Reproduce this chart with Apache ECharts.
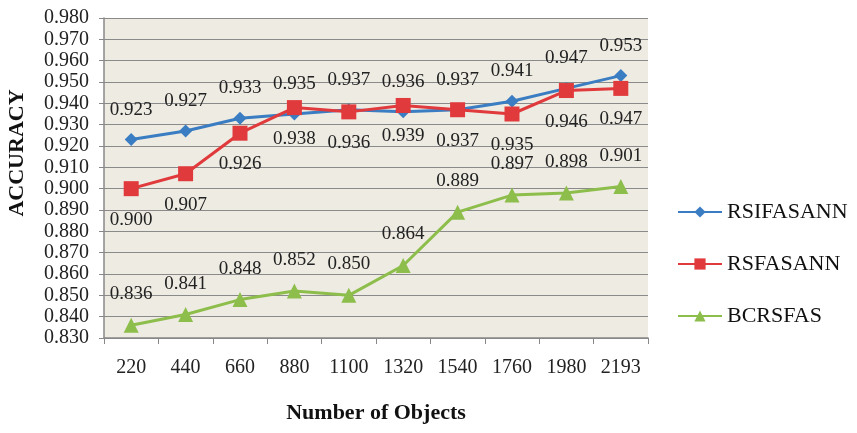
<!DOCTYPE html>
<html><head><meta charset="utf-8">
<script src="https://cdn.jsdelivr.net/npm/echarts@6/dist/echarts.min.js"></script>
<style>html,body{margin:0;padding:0;background:#fff}#c{width:857px;height:433px}</style>
</head><body><div id="c"></div>
<script>
const categories = ['220','440','660','880','1100','1320','1540','1760','1980','2193'];
const rsifasann = [0.923,0.927,0.933,0.935,0.937,0.936,0.937,0.941,0.947,0.953];
const rsfasann  = [0.900,0.907,0.926,0.938,0.936,0.939,0.937,0.935,0.946,0.947];
const bcrsfas   = [0.836,0.841,0.848,0.852,0.850,0.864,0.889,0.897,0.898,0.901];

const font = "'Liberation Serif','Times New Roman',serif";
const chart = echarts.init(document.getElementById('c'));
function lbl(pos){return {show:true,position:pos,distance:14,fontFamily:font,fontSize:19,color:'#222',formatter:p=>p.value.toFixed(3)};}
chart.setOption({
  animation:false,
  textStyle:{fontFamily:font},
  grid:{left:104,right:209,top:18,bottom:95,show:true,backgroundColor:'#EEEBE2',borderWidth:0,
    containLabel:false,outerBoundsMode:'none'},
  legend:{orient:'vertical',left:672,top:196,itemGap:30,itemWidth:44,itemHeight:14,
    textStyle:{fontFamily:font,fontSize:22,color:'#111'},
    data:['RSIFASANN','RSFASANN','BCRSFAS']},
  xAxis:{type:'category',data:categories,boundaryGap:true,
    name:'Number of Objects',nameLocation:'middle',nameGap:64,
    nameTextStyle:{fontFamily:font,fontSize:22,fontWeight:'bold',color:'#111'},
    axisLine:{lineStyle:{color:'#888',width:1.5}},
    axisTick:{show:true,length:6,lineStyle:{color:'#888'}},
    axisLabel:{fontFamily:font,fontSize:20,color:'#222',margin:20}},
  yAxis:{type:'value',min:0.83,max:0.98,interval:0.01,
    name:'ACCURACY',nameLocation:'middle',nameGap:76,nameRotate:90,
    nameTextStyle:{fontFamily:font,fontSize:22,fontWeight:'bold',color:'#111',padding:[0,0,0,50]},
    axisLine:{show:true,lineStyle:{color:'#888',width:1.5}},
    axisTick:{show:true,length:5,lineStyle:{color:'#888'}},
    splitLine:{lineStyle:{color:'#8a8a8a',width:1.2}},
    axisLabel:{fontFamily:font,fontSize:20,color:'#222',margin:15,formatter:v=>v.toFixed(3)}},
  series:[
    {name:'RSIFASANN',type:'line',data:rsifasann,symbol:'diamond',symbolSize:13,
     lineStyle:{width:3,color:'#3A7DC2'},itemStyle:{color:'#3A7DC2'},label:lbl('top'),z:3},
    {name:'RSFASANN',type:'line',data:rsfasann,symbol:'rect',symbolSize:15,
     lineStyle:{width:3,color:'#E03A3C'},itemStyle:{color:'#E03A3C'},label:lbl('bottom'),z:4},
    {name:'BCRSFAS',type:'line',data:bcrsfas,symbol:'triangle',symbolSize:15,
     lineStyle:{width:3,color:'#8DBE4B'},itemStyle:{color:'#8DBE4B'},label:lbl('top'),z:2}
  ]
});
</script></body></html>
